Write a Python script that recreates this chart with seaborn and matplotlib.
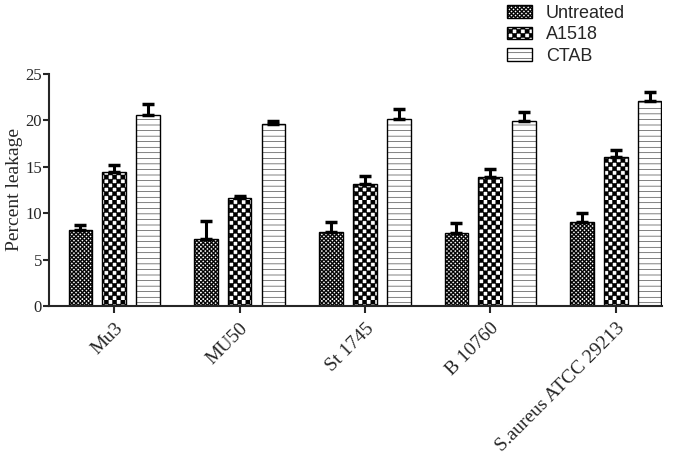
import numpy as np
import pandas as pd
import matplotlib
matplotlib.use("Agg")
import matplotlib.pyplot as plt
import matplotlib.hatch as mhatch
from matplotlib.path import Path
import seaborn as sns

strains = ["Mu3", "MU50", "St 1745", "B 10760", "S.aureus ATCC 29213"]
treatments = ["Untreated", "A1518", "CTAB"]
untreated = [8.2, 7.2, 8.0, 7.9, 9.0]
a1518 = [14.4, 11.6, 13.1, 13.9, 16.0]
ctab = [20.6, 19.6, 20.1, 19.9, 22.1]
untreated_err = [0.5, 2.0, 1.1, 1.0, 1.0]
a1518_err = [0.8, 0.3, 0.9, 0.9, 0.8]
ctab_err = [1.2, 0.3, 1.1, 1.0, 1.0]
yticks = [0, 5, 10, 15, 20, 25]


# custom checkerboard hatch mapped onto 'O'
class CheckerHatch(mhatch.HatchPatternBase):
    def __init__(self, hatch, density):
        n = int(hatch.count('O') * density)
        if n % 2:
            n += 1
        self.n = n
        self.cells = [(i, j) for i in range(n) for j in range(n) if (i + j) % 2 == 0]
        self.num_vertices = len(self.cells) * 5

    def set_vertices_and_codes(self, vertices, codes):
        s = 1.0 / self.n
        k = 0
        for i, j in self.cells:
            x0, y0 = i * s, j * s
            vertices[k:k + 5] = [(x0, y0), (x0 + s, y0), (x0 + s, y0 + s), (x0, y0 + s), (x0, y0)]
            codes[k:k + 5] = [Path.MOVETO, Path.LINETO, Path.LINETO, Path.LINETO, Path.CLOSEPOLY]
            k += 5


mhatch._hatch_types = [h for h in mhatch._hatch_types if h is not mhatch.LargeCircles] + [CheckerHatch]

sns.set_theme(style="ticks")
plt.rcParams['font.family'] = ['Liberation Serif', 'DejaVu Serif']
plt.rcParams['hatch.linewidth'] = 0.35
plt.rcParams['hatch.color'] = 'black'

rows = []
for vals, errs, t in [(untreated, untreated_err, "Untreated"), (a1518, a1518_err, "A1518"), (ctab, ctab_err, "CTAB")]:
    for s, v, e in zip(strains, vals, errs):
        rows.append({"strain": s, "treatment": t, "value": v, "err": e})
df = pd.DataFrame(rows)

fig = plt.figure(figsize=(6.8, 4.55), dpi=100)
ax = fig.add_axes([0.0721, 0.3275, 0.9015, 0.51])

sns.barplot(data=df, x="strain", y="value", hue="treatment", order=strains, hue_order=treatments,
            palette=["white"] * 3, edgecolor="black", linewidth=1.0, width=0.81, gap=0.3,
            errorbar=None, legend=False, ax=ax)

hatches = ["OOOOOOOO", "OOOO", "---"]
for cont, h in zip(ax.containers, hatches):
    for bar in cont:
        bar.set_hatch(h)
        bar.set_edgecolor("black")

bar_containers = list(ax.containers[:3])
errs_all = [untreated_err, a1518_err, ctab_err]
for cont, errs in zip(bar_containers, errs_all):
    xs = [b.get_x() + b.get_width() / 2 for b in cont]
    hs = [b.get_height() for b in cont]
    ax.errorbar(xs, hs, yerr=[np.zeros(len(errs)), errs], fmt="none", ecolor="black",
                elinewidth=2.2, capsize=4.5, capthick=2.5, zorder=1)

ax.set_xlim(-0.52, 4.37)
ax.set_ylim(0, 25)
ax.set_yticks(yticks)
ax.set_ylabel("Percent leakage", fontsize=14, labelpad=2)
ax.set_xlabel("")
ax.tick_params(axis='y', labelsize=12, length=4, width=1.5, pad=1)
ax.tick_params(axis='x', labelsize=14, length=5, width=1.5, pad=5)
plt.setp(ax.get_xticklabels(), rotation=45, ha="right", rotation_mode="anchor")
sns.despine(ax=ax)
for sp in ["left", "bottom"]:
    ax.spines[sp].set_linewidth(1.5)

leg = fig.legend(bar_containers, treatments, loc="upper left", bbox_to_anchor=(0.722, 1.025),
                 frameon=False, prop={'family': 'Liberation Sans', 'size': 13},
                 handlelength=1.4, handleheight=0.7, handletextpad=0.75, labelspacing=0.25)

fig.savefig("out.png", dpi=100)
